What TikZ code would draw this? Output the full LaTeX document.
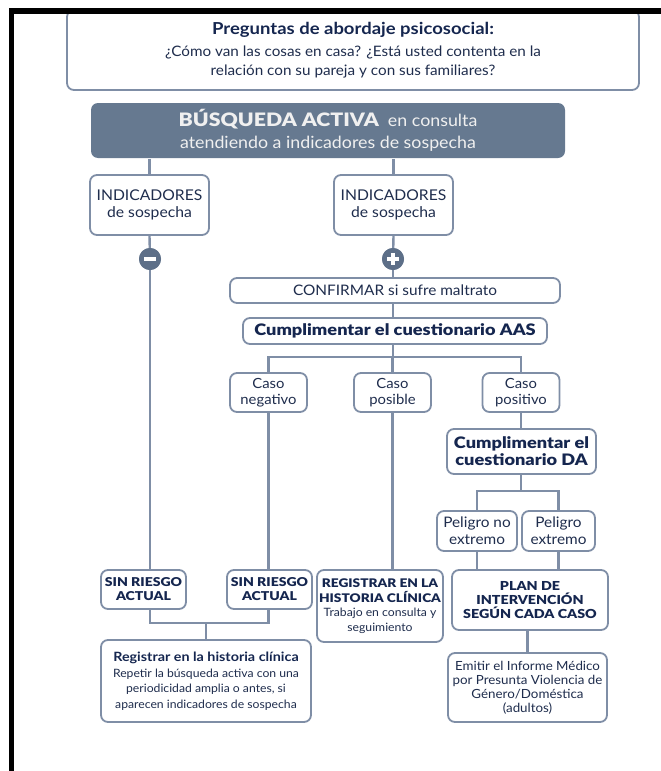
\documentclass[tikz,border=0pt]{standalone}
\usepackage{fontspec}
\setmainfont{Lato}[FakeStretch=1.06, BoldFeatures={FakeStretch=1.12}]
\IfFontExistsTF{Lato Black}{\newfontfamily\heavy{Lato Black}[FakeStretch=1.15]}{\newfontfamily\heavy{Lato}[UprightFont=* Bold, FakeStretch=1.15]}
\definecolor{tcol}{HTML}{1F2D4D}
\definecolor{hcol}{HTML}{15264F}
\definecolor{bcol}{HTML}{7F8EA6}
\definecolor{dcol}{HTML}{667990}
\definecolor{ccol}{HTML}{5D6F88}
\newcommand\fs[2]{\fontsize{#1}{#2}\selectfont}
\tikzset{
  box/.style={draw=bcol, line width=1.8pt, rounded corners=7pt, fill=white,
    align=center, inner sep=0pt, text=tcol, anchor=center},
  hv/.style 2 args={font=\heavy\fs{#1}{#2}, text=hcol},
  rg/.style 2 args={font=\fs{#1}{#2}},
  conn/.style={draw=bcol, line width=2.4pt},
  sign/.style={circle, fill=ccol, minimum size=22pt, inner sep=0pt},
}
\begin{document}
\begin{tikzpicture}[x=1pt,y=-1pt]
\useasboundingbox (0,0) rectangle (661,771);
\coordinate (b1) at (0,357);
\coordinate (b2) at (0,491);
\coordinate (b3) at (0,623);
% boxes
\node[box, minimum width=572pt, minimum height=80pt, rg={14.4}{19}] (top) at (353,50)
  {{\fs{16.5}{19}\bfseries\color{hcol}Preguntas de abordaje psicosocial:}\\[3pt]
   ¿Cómo van las cosas en casa? ¿Está usted contenta en la\\
   relación con su pareja y con sus familiares?};
\node[box, draw=none, fill=dcol, minimum width=474pt, minimum height=55pt, text=white!94!black, rg={16.8}{22}] (dark) at (328,130.5)
  {{\heavy\fs{18.5}{22}BÚSQUEDA ACTIVA}\ \ en consulta\\ atendiendo a indicadores de sospecha};
\node[box, minimum width=119pt, minimum height=60pt, rg={14.8}{17}] (ind1) at (149.5,205)
  {INDICADORES\\ de sospecha};
\node[box, minimum width=119pt, minimum height=60pt, rg={14.8}{17}] (ind2) at (393.5,205)
  {INDICADORES\\ de sospecha};
\node[sign] (minus) at (150,259) {};
\node[sign] (plus) at (393,259) {};
\node[box, minimum width=330pt, minimum height=25pt, rg={14.5}{16}] (conf) at (395,290.5)
  {CONFIRMAR si sufre maltrato};
\node[box, minimum width=304pt, minimum height=26pt, hv={15.8}{16}] (aas) at (395,331)
  {Cumplimentar el cuestionario AAS};
\node[box, minimum width=77pt, minimum height=39pt, rg={14}{15.5}] (cneg) at (268.5,392.5)
  {Caso\\ negativo};
\node[box, minimum width=77pt, minimum height=39pt, rg={14}{15.5}] (cposi) at (392.5,392.5)
  {Caso\\ posible};
\node[box, minimum width=77pt, minimum height=39pt, rg={14}{15.5}] (cposit) at (521,392.5)
  {Caso\\ positivo};
\node[box, minimum width=149pt, minimum height=45pt, hv={15.8}{17}] (da) at (521.5,451.5)
  {Cumplimentar el\\ cuestionario DA};
\node[box, minimum width=80pt, minimum height=40pt, rg={14.5}{17}] (pne) at (477,531)
  {Peligro no\\ extremo};
\node[box, minimum width=73pt, minimum height=40pt, rg={14.5}{17}] (pe) at (558.5,531)
  {Peligro\\ extremo};
\node[box, minimum width=85pt, minimum height=39pt, hv={12.2}{14}] (sr1) at (143.5,589.5)
  {SIN RIESGO\\ ACTUAL};
\node[box, minimum width=85pt, minimum height=39pt, hv={12.2}{14}] (sr2) at (269.5,589.5)
  {SIN RIESGO\\ ACTUAL};
\node[box, minimum width=126pt, minimum height=72pt, rg={11.5}{14.5}] (rhc) at (380,606)
  {{\heavy\fs{11.9}{14.5}\color{hcol}REGISTRAR EN LA}\\ {\heavy\fs{11.9}{14.5}\color{hcol}HISTORIA CLÍNICA}\\
   Trabajo en consulta y\\ seguimiento};
\node[box, minimum width=156pt, minimum height=60pt, hv={12.4}{13.6}] (plan) at (530,600)
  {PLAN DE\\ INTERVENCIÓN\\ SEGÚN CADA CASO};
\node[box, minimum width=210pt, minimum height=82pt, rg={11.5}{15.5}] (reg) at (206,681)
  {{\bfseries\fs{12.8}{15.5}\color{hcol}Registrar en la historia clínica}\\
   Repetir la búsqueda activa con una\\
   periodicidad amplia o antes, si\\
   aparecen indicadores de sospecha};
\node[box, minimum width=159pt, minimum height=69pt, rg={12.6}{14}] (emit) at (527.5,687.5)
  {Emitir el Informe Médico\\ por Presunta Violencia de\\ Género/Doméstica\\ (adultos)};
% connectors
\draw[conn] (dark.south -| ind1) -- (ind1.north);
\draw[conn] (dark.south -| ind2) -- (ind2.north);
\draw[conn] (ind1.south) -- (minus);
\draw[conn] (ind2.south) -- (plus);
\draw[conn] (minus) -- (minus |- sr1.north);
\draw[conn] (plus) -- (plus |- conf.north);
\draw[conn] (conf.south -| plus) -- (aas.north -| plus);
\draw[conn] (aas.south -| plus) -- (b1 -| plus);
\draw[conn] (cneg.north) -- (b1 -| cneg) -- (b1 -| cposit) -- (cposit.north);
\draw[conn] (b1 -| cposi) -- (cposi.north);
\draw[conn] (cneg.south) -- (cneg |- sr2.north);
\draw[conn] (cposi.south) -- (cposi |- rhc.north);
\draw[conn] (cposit.south) -- (da.north -| cposit);
\draw[conn] (da.south -| cposit) -- (b2 -| cposit);
\draw[conn] (pne.north) -- (b2 -| pne) -- (b2 -| pe) -- (pe.north);
\draw[conn] (pne.south) -- (pne |- plan.north);
\draw[conn] (pe.south) -- (pe |- plan.north);
\draw[conn] (sr1.south -| minus) -- (b3 -| minus) -- (b3 -| cneg) -- (sr2.south -| cneg);
\draw[conn] (b3 -| reg) -- (reg.north);
\draw[conn] (plan.south -| emit) -- (emit.north);
% signs
\node[sign] at (minus) {};
\node[sign] at (plus) {};
\fill[white] (144,257.2) rectangle (156,260.8);
\fill[white] (387,257.2) rectangle (399,260.8);
\fill[white] (391.2,253) rectangle (394.8,265);
% frame
\fill[black] (9,8) rectangle (661,14);
\fill[black] (9,8) rectangle (14,771);
\end{tikzpicture}
\end{document}
